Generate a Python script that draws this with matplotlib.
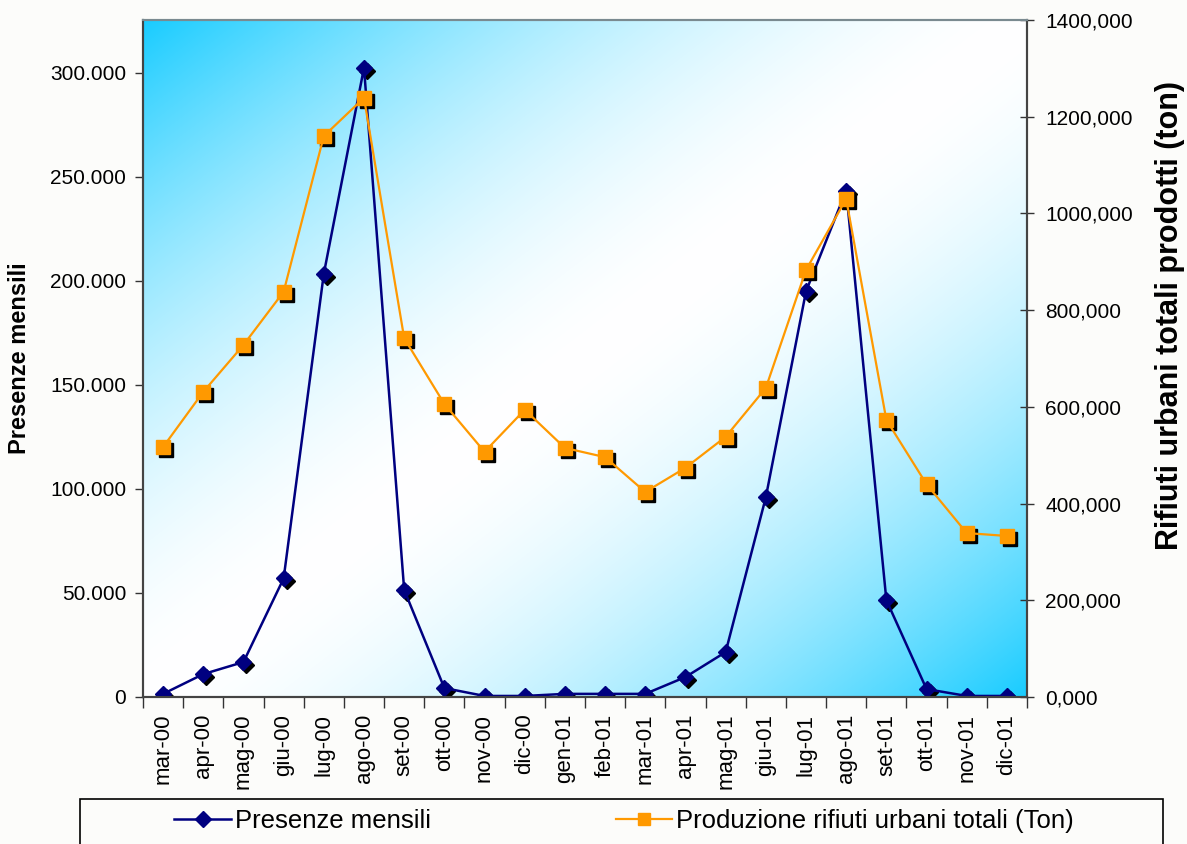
import numpy as np
import matplotlib
matplotlib.use("Agg")
import matplotlib.pyplot as plt
import matplotlib.transforms as mtransforms
from matplotlib.lines import Line2D
from matplotlib.patches import Rectangle

plt.rcParams['font.family'] = ['Liberation Sans', 'DejaVu Sans']

mesi = ['mar-00', 'apr-00', 'mag-00', 'giu-00', 'lug-00', 'ago-00', 'set-00',
        'ott-00', 'nov-00', 'dic-00', 'gen-01', 'feb-01', 'mar-01', 'apr-01',
        'mag-01', 'giu-01', 'lug-01', 'ago-01', 'set-01', 'ott-01', 'nov-01',
        'dic-01']
presenze = [1500, 11000, 16800, 57000, 203500, 302500, 51500, 4300, 500, 500,
            1500, 1500, 1500, 9600, 21600, 96000, 195000, 243500, 46600, 3800,
            500, 500]
rifiuti = [517, 631, 728, 838, 1160, 1239, 742, 606, 507, 594, 515, 496, 424,
           474, 538, 639, 883, 1030, 573, 440, 339, 333]

left_ticks = [0, 50000, 100000, 150000, 200000, 250000, 300000]
left_labels = ['0', '50.000', '100.000', '150.000', '200.000', '250.000', '300.000']
right_ticks = [0, 200, 400, 600, 800, 1000, 1200, 1400]
right_labels = ['0,000', '200,000', '400,000', '600,000', '800,000',
                '1000,000', '1200,000', '1400,000']

fig = plt.figure(figsize=(11.87, 8.44), dpi=100, facecolor='#fcfcfa')
ax = fig.add_axes([143/1187, 1-697/844, (1027-143)/1187, (697-20)/844])
ax2 = ax.twinx()

# diagonal gradient background
u, v = np.meshgrid(np.linspace(0, 1, 400), np.linspace(0, 1, 300))
t = np.clip(np.abs(u - v), 0, 1) ** 1.7
cyan = np.array([0.10, 0.80, 1.0])
img = np.ones((300, 400, 3)) * (1 - t[..., None]) + cyan * t[..., None]
ax.imshow(img, extent=[0, 1, 0, 1], transform=ax.transAxes, origin='lower',
          aspect='auto', zorder=0, interpolation='bilinear')

x = np.arange(len(mesi)) + 0.5
shadow = mtransforms.offset_copy(ax.transData, fig=fig, x=3, y=-3, units='dots')
shadow2 = mtransforms.offset_copy(ax2.transData, fig=fig, x=3, y=-3, units='dots')

ax.plot(x, presenze, 'D', color='black', ms=8.5, transform=shadow, zorder=2)
ax.plot(x, presenze, '-D', color='#000080', lw=1.8, ms=8.5, zorder=3)
ax2.plot(x, rifiuti, 's', color='black', ms=10, transform=shadow2, zorder=2)
ax2.plot(x, rifiuti, '-s', color='#ff9900', mec='#ff9900', lw=1.6, ms=10, zorder=3)

ax.set_xlim(0, len(mesi))
ax.set_ylim(0, 677 / 624 * 300000)
ax2.set_ylim(0, 1400)

ax.set_xticks(np.arange(len(mesi) + 1))
ax.set_xticklabels([])
ax.set_xticks(x, minor=True)
ax.set_xticklabels(mesi, minor=True, rotation=90, fontsize=16)
ax.tick_params(axis='x', which='major', length=8, width=1, direction='out', color='#333333')
ax.tick_params(axis='x', which='minor', length=0, pad=12)

ax.set_yticks(left_ticks)
ax.set_yticklabels(left_labels, fontsize=15)
ax.tick_params(axis='y', length=6, width=1, direction='out', pad=6, color='#333333')
ax2.set_yticks(right_ticks)
ax2.set_yticklabels(right_labels, fontsize=15)
ax2.tick_params(axis='y', length=10, width=1, direction='inout', pad=8, color='#333333')

ax.set_ylabel('Presenze mensili', fontsize=17, fontweight='bold', labelpad=14)
fig.text(1170/1187, 1-315/844, 'Rifiuti urbani totali prodotti (ton)',
         rotation=90, fontsize=22, fontweight='bold', ha='center', va='center')

for a in (ax, ax2):
    for s in a.spines.values():
        s.set_color('#444444')
        s.set_linewidth(1.5)
    a.spines['top'].set_color('#7a8a90')

# legend box
fig.patches.append(Rectangle((80/1187, -0.05), (1163-80)/1187, 1.05 - 799/844,
                             transform=fig.transFigure, facecolor='#fcfcfa',
                             edgecolor='black', lw=1.2))
handles = [Line2D([], [], color='#000080', marker='D', ms=8, lw=1.8),
           Line2D([], [], color='#ff9900', marker='s', ms=8, lw=1.6)]
fig.legend(handles, ['Presenze mensili', 'Produzione rifiuti urbani totali (Ton)'],
           loc='center', bbox_to_anchor=(624/1187, 1-821/844), ncol=2,
           frameon=False, fontsize=18.5, handlelength=2.2, handletextpad=0.15,
           columnspacing=7.2)

fig.savefig('out.png', dpi=100, facecolor=fig.get_facecolor())
